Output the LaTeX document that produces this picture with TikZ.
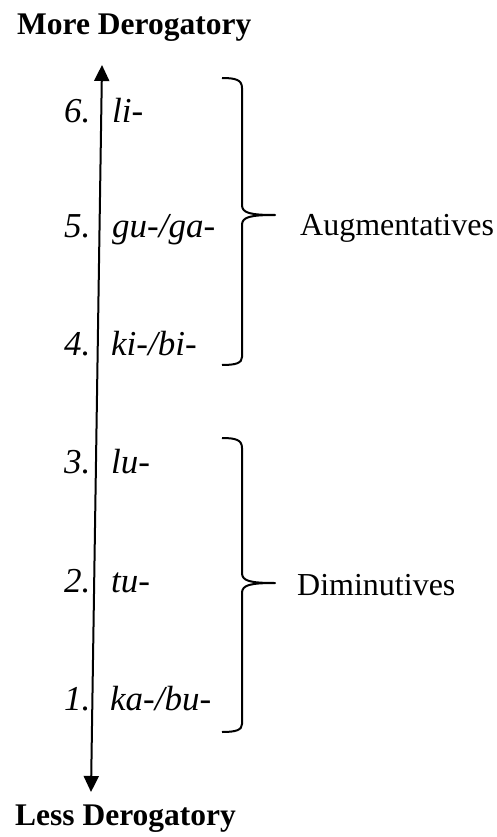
\documentclass[tikz,border=0pt]{standalone}
\usepackage{fontspec}
\setmainfont{Liberation Serif}
\usetikzlibrary{arrows.meta}
\tikzset{
  lbl/.style={anchor=base west,inner sep=0pt,font=\fontsize{35}{40}\selectfont\itshape},
  grp/.style={anchor=base west,inner sep=0pt,font=\fontsize{32}{38}\selectfont},
  ttl/.style={anchor=base west,inner sep=0pt,font=\fontsize{31.5}{38}\selectfont\bfseries},
  bracestroke/.style={line width=2pt,line join=round},
  axis/.style={line width=2pt,{Triangle[length=16pt,width=15pt]}-{Triangle[length=16pt,width=15pt]}}
}
\begin{document}
\begin{tikzpicture}[x=1pt,y=-1pt]
\useasboundingbox (0,0) rectangle (496,837);
\node[ttl] (more) at (17,35) {More Derogatory};
\node[ttl] (less) at (15,825) {Less Derogatory};
\coordinate (atop) at (102,65);
\coordinate (abot) at (91,792);
\draw[axis] (abot) -- (atop);
% labels
\node[lbl] (n6) at (64,123) {6.};
\node[lbl] (n5) at (64,237) {5.};
\node[lbl] (n4) at (64,355) {4.};
\node[lbl] (n3) at (64,473) {3.};
\node[lbl] (n2) at (64,592) {2.};
\node[lbl] (n1) at (64,710) {1.};
\node[lbl] (p6) at (112,123) {li-};
\node[lbl] (p5) at (112,237) {gu-/ga-};
\node[lbl] (p4) at (111,355) {ki-/bi-};
\node[lbl] (p3) at (111,473) {lu-};
\node[lbl] (p2) at (111,592) {tu-};
\node[lbl] (p1) at (110,710) {ka-/bu-};
% braces
\draw[bracestroke] (222,78) .. controls (236,78) and (242,80) .. (242,88) -- (242,205)
  .. controls (242,213) and (250,215) .. (275,215)
  .. controls (250,215) and (242,217) .. (242,225) -- (242,357)
  .. controls (242,363) and (236,365) .. (222,365);
\coordinate (augtip) at (275,215);
\draw[bracestroke] (222,438) .. controls (236,438) and (242,440) .. (242,448) -- (242,573)
  .. controls (242,581) and (250,583) .. (275,583)
  .. controls (250,583) and (242,585) .. (242,593) -- (242,724)
  .. controls (242,730) and (236,732) .. (222,732);
\coordinate (dimtip) at (275,583);
\node[grp] (aug) at (300,235) {Augmentatives};
\node[grp] (dim) at (297,595) {Diminutives};
\end{tikzpicture}
\end{document}
